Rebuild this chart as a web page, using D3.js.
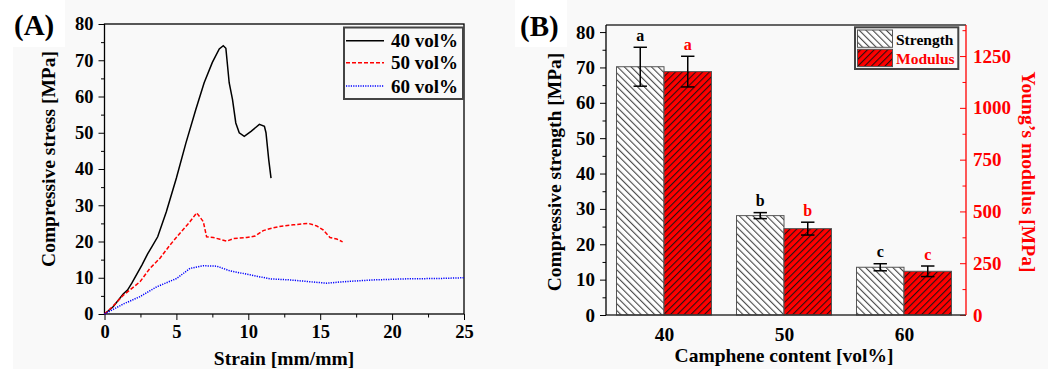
<!DOCTYPE html>
<html>
<head>
<meta charset="utf-8">
<script src="https://cdn.jsdelivr.net/npm/d3@7"></script>
<style>
body{margin:0;background:#fff}
svg{display:block;font-family:"Liberation Serif",serif;font-weight:bold}
</style>
</head>
<body>
<svg id="fig" width="1048" height="369"></svg>
<script>

// (A) stress-strain curves, [strain, stress]
var curve40 = [[0,0],[0.6,2.0],[1.3,5.5],[1.6,6.6],[1.9,8.5],[2.6,13.5],[3.0,16.6],[3.3,18.6],[3.7,21.3],[4.3,28.2],[5.0,37.5],
	[5.65,47],[6.35,56.4],[6.93,63.8],[7.5,69.4],[7.98,73.1],[8.26,74.0],[8.44,73.3],[8.67,63.8],[8.9,59.2],
	[9.13,52.7],[9.37,50],[9.72,49.0],[10.19,50.4],[10.77,52.3],[11.12,51.8],[11.23,50],[11.42,42.6],[11.58,37.5]];
var curve50 = [[0,0],[0.6,2.2],[1.31,5.2],[2.47,8.9],[3.16,12.6],[3.86,15.4],[4.55,19],[5.25,22.3],[5.95,25.5],
	[6.41,27.9],[6.87,25.5],[7.1,21.3],[7.57,21.1],[8.03,20.6],[8.5,20.1],[8.96,20.8],[9.89,21.1],[10.47,21.5],
	[11.04,23],[11.74,23.8],[12.43,24.3],[13.13,24.6],[14.17,25],[14.76,24.3],[15.2,23.2],[15.68,21.1],[16.15,20.7],[16.56,19.9]];
var curve60 = [[0,0],[1.31,2.76],[2.47,4.8],[3.63,7.5],[5.02,9.8],[5.95,12.6],[6.87,13.3],[7.8,13.2],[8.73,11.9],
	[10.12,10.8],[11.51,9.7],[12.9,9.4],[14.29,8.9],[15.45,8.5],[16.6,8.9],[18.69,9.4],[21.0,9.7],[23.3,9.8],[25,10.0]];
var curveNames = ["40 vol%", "50 vol%", "60 vol%"];
var curveColors = ["#000", "#ff0000", "#0000ff"];
var curveDash = [null, "4,2", "1.2,1.2"];
var stressTicks = [0,10,20,30,40,50,60,70,80];
var strainTicks = [0,5,10,15,20,25];

// (B) bars
var camphene = ["40", "50", "60"];
var strengthMean = [70.2, 28.1, 13.5];
var strengthErr = [5.5, 0.85, 1.0];
var modulusMean = [1175, 417, 211];
var modulusErr = [74, 31, 25.5];
var letters = ["a", "b", "c"];
var strengthTicks = [0,10,20,30,40,50,60,70,80];
var modulusTicks = [0,250,500,750,1000,1250];

var svg = d3.select("#fig");

// page background and the white patches behind the panel letters
svg.append("rect").attr("width",1048).attr("height",369).attr("fill","#f9f9f9");
svg.append("rect").attr("x",0).attr("y",0).attr("width",13).attr("height",369).attr("fill","#fff");
svg.append("rect").attr("x",0).attr("y",0).attr("width",65).attr("height",47).attr("fill","#fff");
svg.append("rect").attr("x",515).attr("y",0).attr("width",52).attr("height",47).attr("fill","#fff");

// hatch patterns
var defs = svg.append("defs");
function hatch(id, bg, angle, col){
	var p = defs.append("pattern").attr("id",id).attr("patternUnits","userSpaceOnUse")
		.attr("width",4.8).attr("height",4.8).attr("patternTransform","rotate("+angle+")");
	p.append("rect").attr("width",4.8).attr("height",4.8).attr("fill",bg);
	p.append("line").attr("x1",0.6).attr("x2",0.6).attr("y1",0).attr("y2",4.8)
		.attr("stroke",col).attr("stroke-width",1);
}
hatch("hStrength","#fff",-45,"#333");
hatch("hModulus","#ff0000",45,"#111");

function styleTicks(g, size){
	g.select(".domain").remove();
	g.selectAll("text").attr("font-size",size).attr("font-family","Liberation Serif").attr("font-weight","bold");
}

/* ---------- panel A ---------- */
var xA = d3.scaleLinear().domain([0,25]).range([104.5,464]);
var yA = d3.scaleLinear().domain([0,80]).range([314,24]);
var gA = svg.append("g");

gA.append("g").attr("transform","translate(0,314)")
	.call(d3.axisBottom(xA).tickValues(strainTicks).tickSize(6).tickPadding(5).tickFormat(d3.format("d")))
	.call(styleTicks, 18.5);
gA.append("g").attr("transform","translate(0,314)")
	.call(d3.axisBottom(xA).tickValues(strainTicks.slice(1).map(function(d){return d-2.5;})).tickSize(3.5).tickFormat(""))
	.call(styleTicks, 18);
gA.append("g").attr("transform","translate(104.5,0)")
	.call(d3.axisLeft(yA).tickValues(stressTicks).tickSize(6).tickPadding(5))
	.call(styleTicks, 18.5);
gA.append("g").attr("transform","translate(104.5,0)")
	.call(d3.axisLeft(yA).tickValues(stressTicks.slice(1).map(function(d){return d-5;})).tickSize(3.5).tickFormat(""))
	.call(styleTicks, 18);
gA.append("rect").attr("x",xA(0)).attr("y",yA(80)).attr("width",xA(25)-xA(0)).attr("height",yA(0)-yA(80))
	.attr("fill","none").attr("stroke","#000").attr("stroke-width",1.3);

var line = d3.line().x(function(d){return xA(d[0]);}).y(function(d){return yA(d[1]);});
[curve40, curve50, curve60].forEach(function(c,i){
	gA.append("path").datum(c).attr("d",line).attr("fill","none")
		.attr("stroke",curveColors[i]).attr("stroke-width",1.5)
		.attr("stroke-dasharray",curveDash[i]);
});

// legend A
gA.append("rect").attr("x",344).attr("y",27.5).attr("width",119).attr("height",71.5)
	.attr("fill","#f9f9f9").attr("stroke","#444").attr("stroke-width",2);
var legY = [40.7, 62.7, 86];
curveNames.forEach(function(n,i){
	gA.append("line").attr("x1",346).attr("x2",384).attr("y1",legY[i]).attr("y2",legY[i])
		.attr("stroke",curveColors[i]).attr("stroke-width",1.5).attr("stroke-dasharray",curveDash[i]);
	gA.append("text").attr("x",391).attr("y",legY[i]+6.5).attr("font-size",19).text(n);
});

gA.append("text").attr("x",284).attr("y",365).attr("text-anchor","middle").attr("font-size",19.5)
	.text("Strain [mm/mm]");
gA.append("text").attr("transform","translate(55,159) rotate(-90)").attr("text-anchor","middle")
	.attr("font-size",19.5).text("Compressive stress [MPa]");
gA.append("text").attr("x",14).attr("y",35).attr("font-size",29).text("(A)");

/* ---------- panel B ---------- */
var bL = 606, bR = 966, bT = 25, bB = 315;
var xB = d3.scalePoint().domain(camphene).range([604,964]).padding(0.5);
var inner = d3.scaleBand().domain(["s","m"]).range([-47.5,47.5]);
var yB = d3.scaleLinear().domain([0,82]).range([bB,bT]);
var yR = d3.scaleLinear().domain([0,1400]).range([bB,bT]);
var gB = svg.append("g");

var cap = 6.7;
camphene.forEach(function(c,i){
	var xs = xB(c) + inner("s"), xm = xB(c) + inner("m"), w = inner.bandwidth();
	gB.append("rect").attr("x",xs).attr("y",yB(strengthMean[i])).attr("width",w)
		.attr("height",yB(0)-yB(strengthMean[i])).attr("fill","url(#hStrength)").attr("stroke","#555").attr("stroke-width",1);
	gB.append("rect").attr("x",xm).attr("y",yR(modulusMean[i])).attr("width",w)
		.attr("height",yR(0)-yR(modulusMean[i])).attr("fill","url(#hModulus)").attr("stroke","#555").attr("stroke-width",1);

	// error bars + significance letters
	[[xs + w/2, yB(strengthMean[i]+strengthErr[i]), yB(strengthMean[i]-strengthErr[i]), "#000"],
	 [xm + w/2, yR(modulusMean[i]+modulusErr[i]), yR(modulusMean[i]-modulusErr[i]), "#ff0000"]].forEach(function(e){
		var g = gB.append("g").attr("stroke","#000").attr("stroke-width",1.5);
		g.append("line").attr("x1",e[0]).attr("x2",e[0]).attr("y1",e[1]).attr("y2",e[2]);
		g.append("line").attr("x1",e[0]-cap).attr("x2",e[0]+cap).attr("y1",e[1]).attr("y2",e[1]);
		g.append("line").attr("x1",e[0]-cap).attr("x2",e[0]+cap).attr("y1",e[2]).attr("y2",e[2]);
		gB.append("text").attr("x",e[0]).attr("y",e[1]-6.5).attr("text-anchor","middle")
			.attr("font-size",16).attr("fill",e[3]).text(letters[i]);
	});
});

// axes B
gB.append("g").attr("transform","translate("+bL+",0)")
	.call(d3.axisLeft(yB).tickValues(strengthTicks).tickSize(6).tickPadding(5))
	.call(styleTicks, 19);
gB.append("g").attr("transform","translate("+bL+",0)")
	.call(d3.axisLeft(yB).tickValues(strengthTicks.slice(1).map(function(d){return d-5;})).tickSize(3.5).tickFormat(""))
	.call(styleTicks, 19);
var rAx = gB.append("g").attr("transform","translate("+bR+",0)")
	.call(d3.axisRight(yR).tickValues(modulusTicks).tickSize(-6).tickPadding(7).tickFormat(d3.format("d")))
	.call(styleTicks, 19);
var rMin = gB.append("g").attr("transform","translate("+bR+",0)")
	.call(d3.axisRight(yR).tickValues(modulusTicks.slice(1).map(function(d){return d-125;}).concat([1375])).tickSize(-3.5).tickFormat(""))
	.call(styleTicks, 19);
[rAx, rMin].forEach(function(g){
	g.selectAll("line").attr("stroke","#ff0000");
	g.selectAll("text").attr("fill","#ff0000");
});
gB.append("g").attr("transform","translate(0,"+bB+")")
	.call(d3.axisBottom(xB).tickSize(0).tickPadding(12))
	.call(styleTicks, 19.5);

gB.append("line").attr("x1",bL).attr("x2",bR).attr("y1",bB).attr("y2",bB).attr("stroke","#333").attr("stroke-width",1.5);
gB.append("line").attr("x1",bL).attr("x2",bR).attr("y1",bT).attr("y2",bT).attr("stroke","#333").attr("stroke-width",1.3);
gB.append("line").attr("x1",bL).attr("x2",bL).attr("y1",bT).attr("y2",bB).attr("stroke","#000").attr("stroke-width",1.3);
gB.append("line").attr("x1",bR).attr("x2",bR).attr("y1",bT).attr("y2",bB).attr("stroke","#ff0000").attr("stroke-width",1.3);

// legend B
gB.append("rect").attr("x",855).attr("y",27.3).attr("width",103.3).attr("height",41.7)
	.attr("fill","#f9f9f9").attr("stroke","#444").attr("stroke-width",2);
gB.append("rect").attr("x",857.5).attr("y",30).attr("width",35).attr("height",17.3)
	.attr("fill","url(#hStrength)").attr("stroke","#555");
gB.append("rect").attr("x",857.5).attr("y",49.3).attr("width",35).attr("height",17.3)
	.attr("fill","url(#hModulus)").attr("stroke","#555");
gB.append("text").attr("x",896).attr("y",45).attr("font-size",15.5).text("Strength");
gB.append("text").attr("x",896).attr("y",63.5).attr("font-size",15.5).attr("fill","#ff0000").text("Modulus");

gB.append("text").attr("x",784).attr("y",362).attr("text-anchor","middle").attr("font-size",19.5)
	.text("Camphene content [vol%]");
gB.append("text").attr("transform","translate(561,172) rotate(-90)").attr("text-anchor","middle")
	.attr("font-size",19.5).text("Compressive strength [MPa]");
gB.append("text").attr("transform","translate(1022,172) rotate(90)").attr("text-anchor","middle")
	.attr("font-size",19.5).attr("fill","#ff0000").text("Young\u2019s modulus [MPa]");
gB.append("text").attr("x",520).attr("y",36).attr("font-size",29).text("(B)");

</script>
</body>
</html>
